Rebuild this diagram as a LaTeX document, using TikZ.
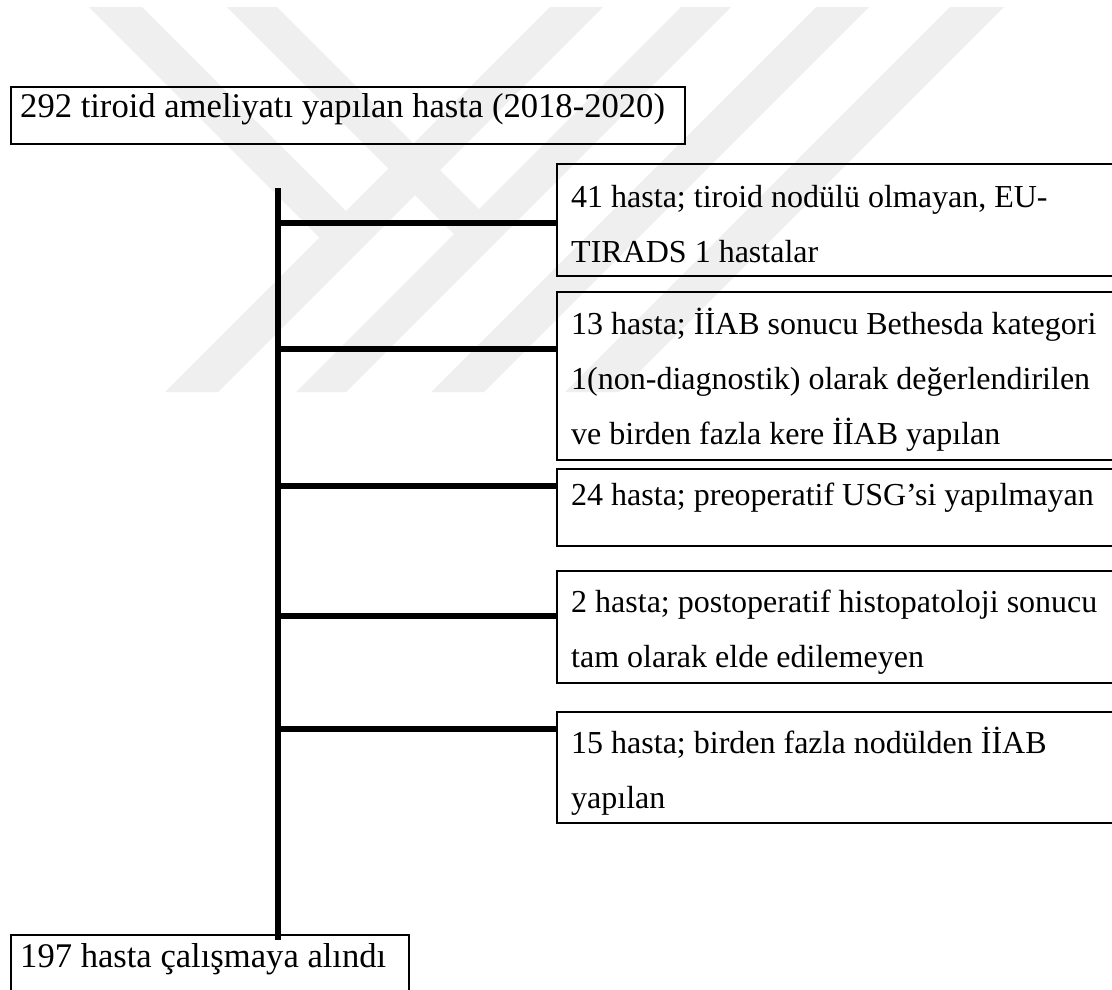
\documentclass[tikz,border=0pt]{standalone}
\usepackage{fontspec}
\setmainfont{Liberation Serif}
\definecolor{wm}{RGB}{239,239,239}
\tikzset{
  box/.style={draw=black, line width=2.4pt, rectangle, inner sep=0pt, anchor=north west},
  txt/.style={anchor=base west, inner sep=0pt, font=\fontsize{32}{40}\selectfont},
  bigtxt/.style={anchor=base west, inner sep=0pt, font=\fontsize{34.6}{42}\selectfont},
  conn/.style={draw=black, line width=5.5pt},
  wmark/.style={fill=wm, draw=none}
}
\begin{document}
\begin{tikzpicture}[x=1pt,y=-1pt]
\useasboundingbox (0,0) rectangle (1112,989);
\fill[white] (0,0) rectangle (1112,989);
\begin{scope}
\clip (0,0) rectangle (1112,989);
% watermark
\fill[wmark] (550,7) -- (603,7) -- (218,392) -- (165,392) -- cycle;
\fill[wmark] (681,7) -- (731,7) -- (346,392) -- (296,392) -- cycle;
\fill[wmark] (816,7) -- (869,7) -- (484,392) -- (431,392) -- cycle;
\fill[wmark] (950,7) -- (1004,7) -- (619,392) -- (565,392) -- cycle;
\fill[wmark] (89,7) -- (142,7) -- (346,211) -- (346,264) -- cycle;
\fill[wmark] (227,7) -- (277,7) -- (479,209) -- (479,259) -- cycle;
% boxes
\node[box, minimum width=674pt, minimum height=57pt] (top) at (10,86) {};
\node[box, minimum width=600pt, minimum height=112pt] (b1) at (556,163) {};
\node[box, minimum width=600pt, minimum height=168pt] (b2) at (556,291) {};
\node[box, minimum width=600pt, minimum height=77pt] (b3) at (556,468) {};
\node[box, minimum width=600pt, minimum height=112pt] (b4) at (556,570) {};
\node[box, minimum width=600pt, minimum height=111pt] (b5) at (556,711) {};
\node[box, minimum width=398pt, minimum height=80pt] (bot) at (10,934) {};
% texts
\node[bigtxt] (t0) at (20,117) {292 tiroid ameliyatı yapılan hasta (2018-2020)};
\node[txt] (t1a) at (571,207) {41 hasta; tiroid nodülü olmayan, EU-};
\node[txt] (t1b) at (571,262) {TIRADS 1 hastalar};
\node[txt] (t2a) at (571,334) {13 hasta; İİAB sonucu Bethesda kategori};
\node[txt] (t2b) at (571,389) {1(non-diagnostik) olarak değerlendirilen};
\node[txt] (t2c) at (571,444) {ve birden fazla kere İİAB yapılan};
\node[txt] (t3) at (571,505) {24 hasta; preoperatif USG’si yapılmayan};
\node[txt] (t4a) at (571,612) {2 hasta; postoperatif histopatoloji sonucu};
\node[txt] (t4b) at (571,667) {tam olarak elde edilemeyen};
\node[txt] (t5a) at (571,753) {15 hasta; birden fazla nodülden İİAB};
\node[txt] (t5b) at (571,808) {yapılan};
\node[bigtxt] (tb) at (20,967) {197 hasta çalışmaya alındı};
% connectors
\coordinate (tt) at (278,188);
\draw[conn, shorten >=-6pt] (tt) -- (tt |- bot.north);
\coordinate (j1) at (278,223);
\coordinate (j2) at (278,349);
\coordinate (j3) at (278,486);
\coordinate (j4) at (278,616);
\coordinate (j5) at (278,729);
\draw[conn] (j1) -- (j1 -| b1.west);
\draw[conn] (j2) -- (j2 -| b2.west);
\draw[conn] (j3) -- (j3 -| b3.west);
\draw[conn] (j4) -- (j4 -| b4.west);
\draw[conn] (j5) -- (j5 -| b5.west);
\end{scope}
\end{tikzpicture}
\end{document}
